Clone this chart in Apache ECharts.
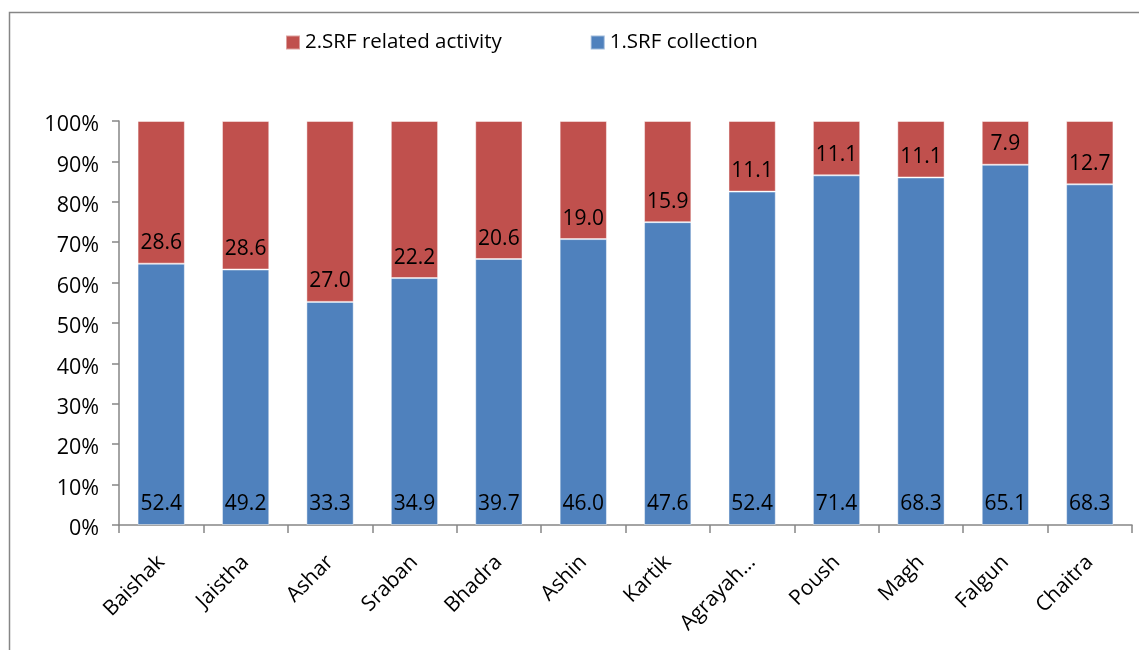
<!DOCTYPE html>
<html>
<head>
<meta charset="utf-8">
<script src="https://cdn.jsdelivr.net/npm/echarts@6/dist/echarts.min.js"></script>
<style>html,body{margin:0;padding:0;background:#fff;}#c{width:1139px;height:650px;}</style>
</head>
<body>
<div id="c"></div>
<script>
const categories = ['Baishak','Jaistha','Ashar','Sraban','Bhadra','Ashin','Kartik','Agrayahan','Poush','Magh','Falgun','Chaitra'];
const collection = [52.4, 49.2, 33.3, 34.9, 39.7, 46.0, 47.6, 52.4, 71.4, 68.3, 65.1, 68.3];
const activity = [28.6, 28.6, 27.0, 22.2, 20.6, 19.0, 15.9, 11.1, 11.1, 11.1, 7.9, 12.7];
const yTicks = [0,10,20,30,40,50,60,70,80,90,100];

const totals = collection.map((v,i)=>v+activity[i]);
const collPct = collection.map((v,i)=>({value: v/totals[i]*100, raw: v}));
const actPct = activity.map((v,i)=>({value: v/totals[i]*100, raw: v}));

const FONT = 'Open Sans';
const chart = echarts.init(document.getElementById('c'));
const lbl = {
  show: true, position: 'insideBottom', distance: 10,
  color: '#000', fontFamily: FONT, fontSize: 21,
  formatter: p => p.data.raw.toFixed(1)
};
chart.setOption({
  animation: false,
  textStyle: {fontFamily: FONT},
  graphic: [{type:'rect', left: 7, top: 10, shape:{width: 1150, height: 660}, style:{fill:'none', stroke:'#868686', lineWidth: 1.5}, z: -1}],
  legend: {
    data: ['2.SRF related activity','1.SRF collection'],
    left: 280, top: 27, itemWidth: 14, itemHeight: 14, itemGap: 88,
    icon: 'rect',
    textStyle: {fontFamily: FONT, fontSize: 20.5, color: '#000'}
  },
  grid: {left: 119, top: 121, right: 7, bottom: 125, containLabel: false},
  xAxis: {
    type: 'category', data: categories,
    axisLine: {lineStyle: {color: '#868686', width: 1.5}},
    axisTick: {show: true, length: 8, lineStyle: {color: '#868686', width: 1.5}},
    axisLabel: {
      rotate: 45, margin: 34, color: '#000', fontFamily: FONT, fontSize: 21,
      formatter: v => v.length > 8 ? v.slice(0,7) + '…' : v
    }
  },
  yAxis: {
    type: 'value', min: 0, max: 100, interval: 10,
    axisLine: {show: true, lineStyle: {color: '#868686', width: 1.5}},
    axisTick: {show: true, length: 7, lineStyle: {color: '#868686', width: 1.5}},
    splitLine: {show: false},
    axisLabel: {margin: 20, color: '#000', fontFamily: FONT, fontSize: 21.5,
      customValues: yTicks, formatter: v => '{a|' + v + '%}',
      rich: {a: {fontFamily: FONT, fontSize: 21.5, color: '#000', padding: [8,0,0,0]}}}
  },
  series: [
    {name: '1.SRF collection', type: 'bar', stack: 's', data: collPct, barCategoryGap: '44%',
     itemStyle: {color: '#4F81BD', borderColor: 'rgba(255,255,255,0.45)', borderWidth: 1}, label: lbl},
    {name: '2.SRF related activity', type: 'bar', stack: 's', data: actPct, barCategoryGap: '44%',
     itemStyle: {color: '#C0504D', borderColor: 'rgba(255,255,255,0.45)', borderWidth: 1}, label: lbl}
  ]
});
</script>
</body>
</html>
